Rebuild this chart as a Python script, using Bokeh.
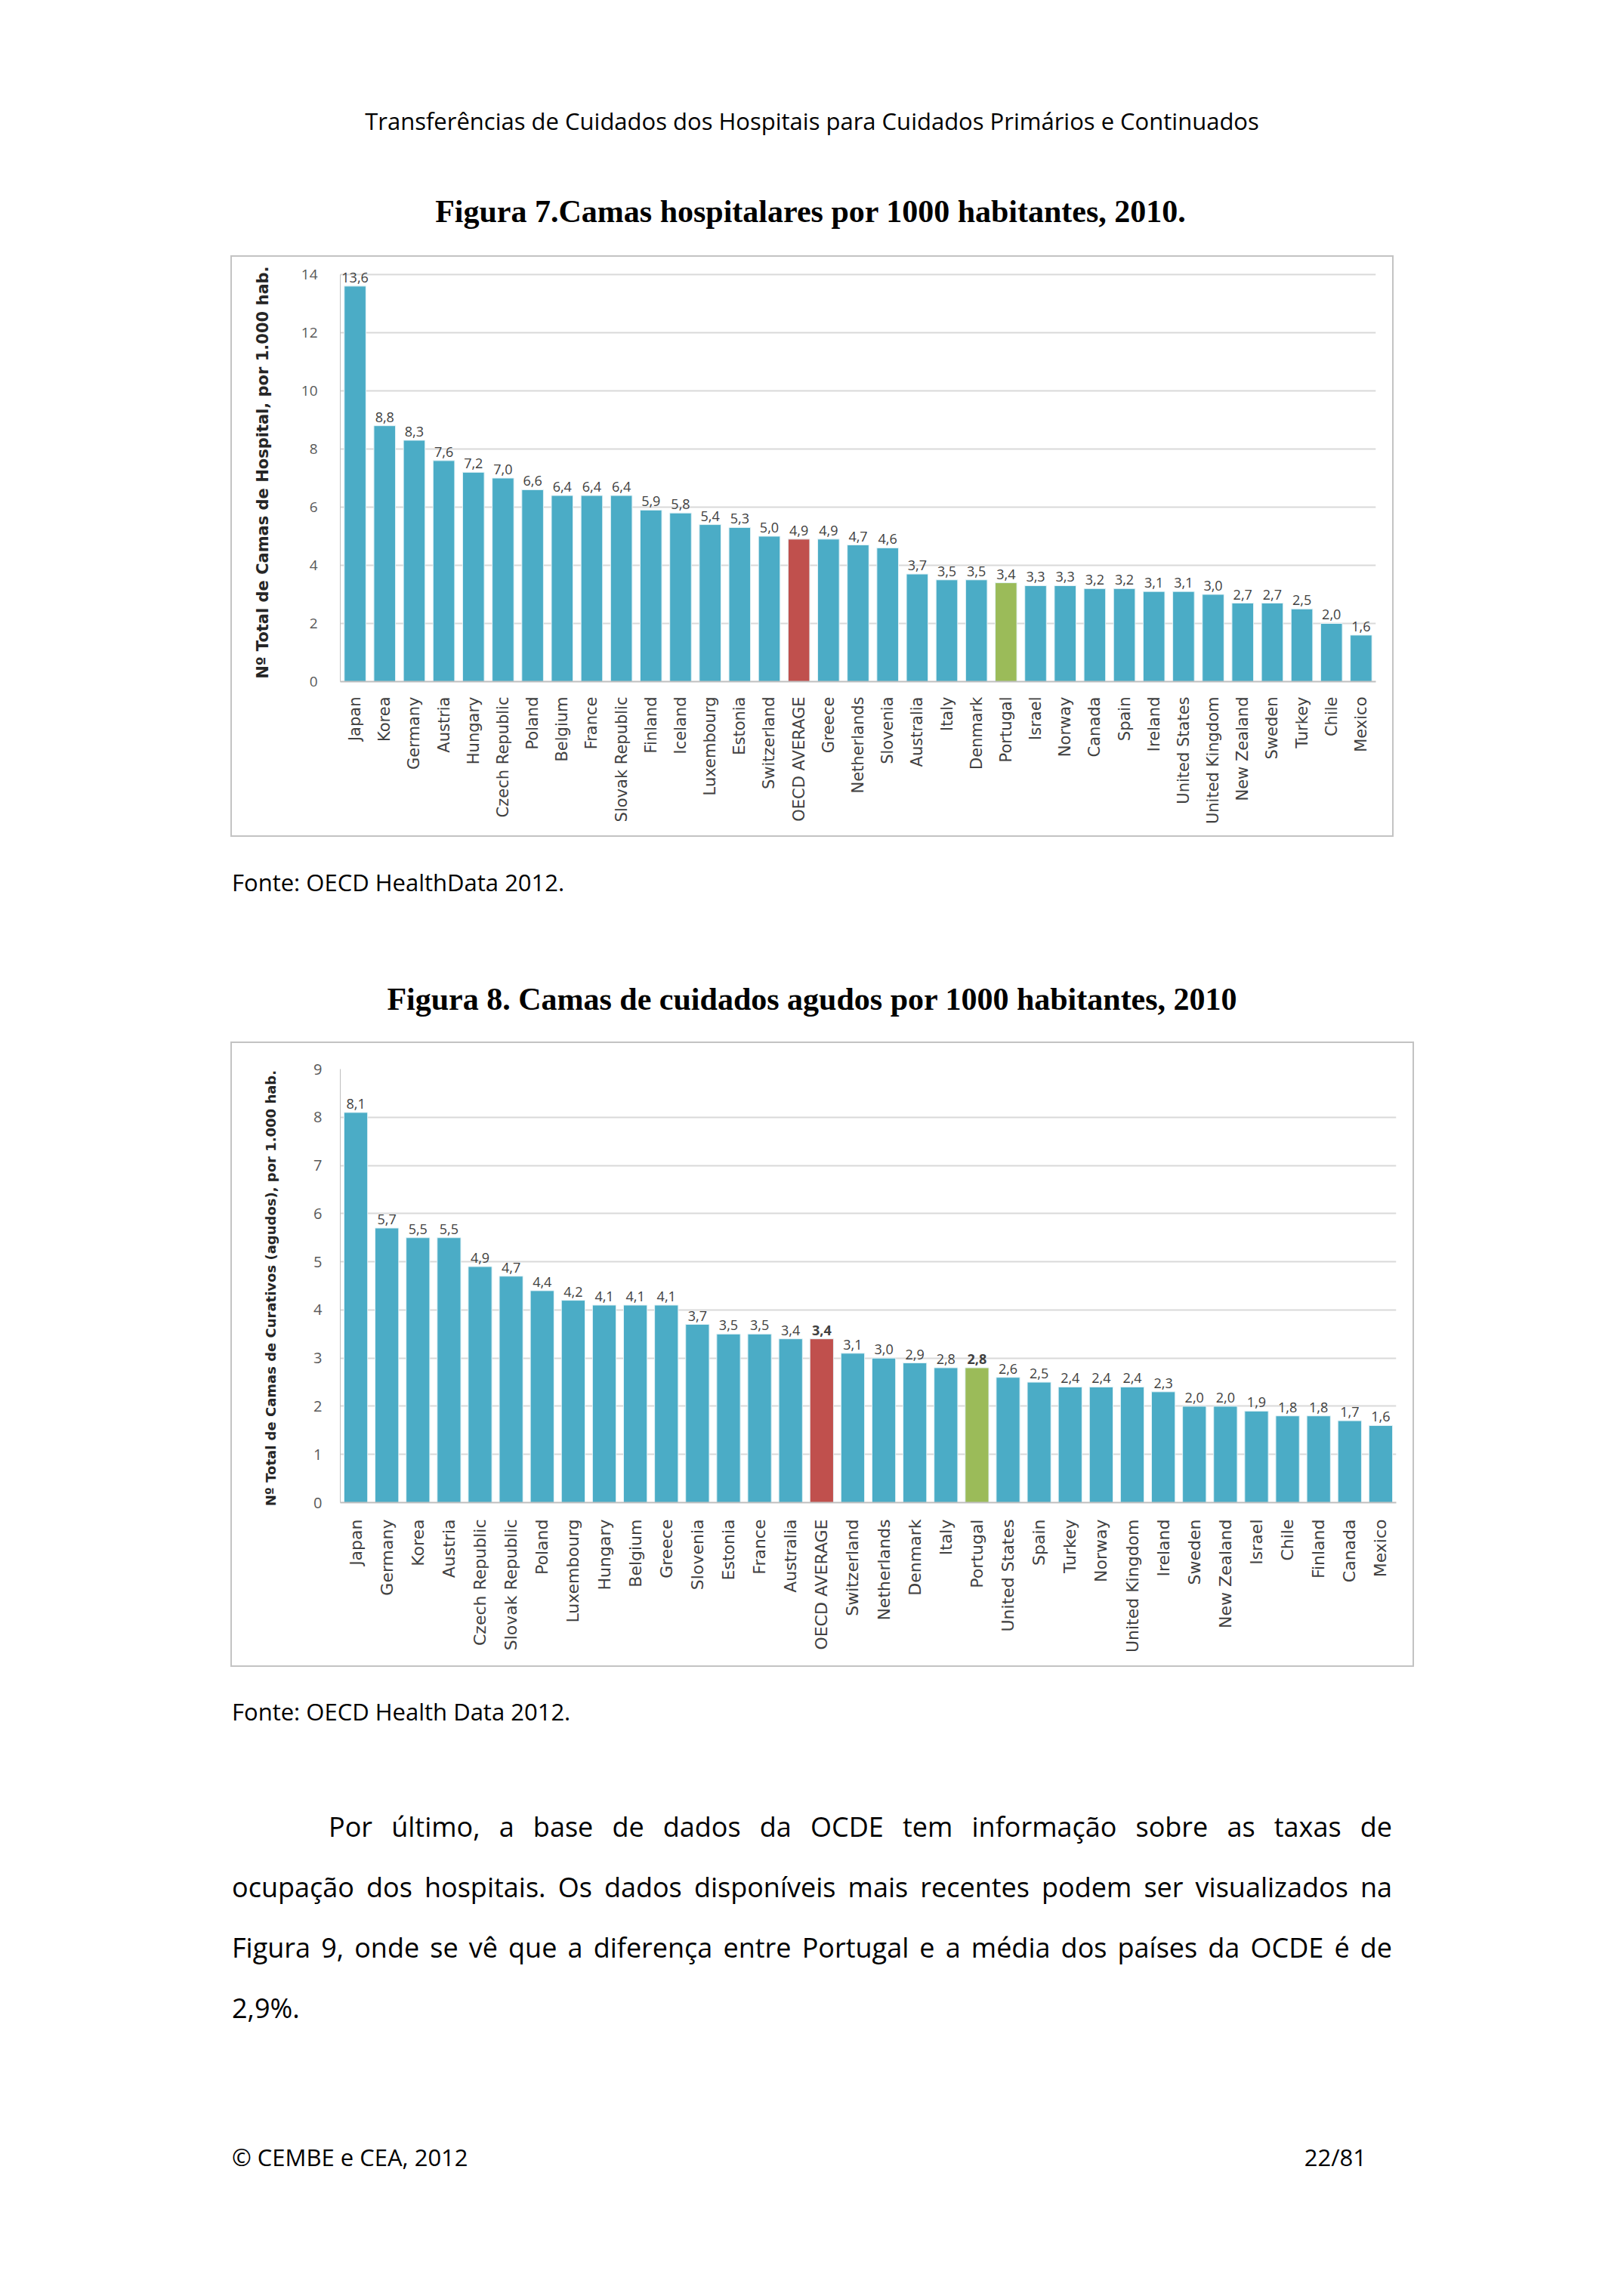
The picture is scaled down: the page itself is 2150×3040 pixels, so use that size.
import math
from bokeh.plotting import figure
from bokeh.models import ColumnDataSource, LabelSet, FactorRange, Range1d, FixedTicker, Div
from bokeh.layouts import column
from bokeh.core.properties import value
from bokeh.embed import file_html
from bokeh.resources import INLINE

# ---------------- data ----------------
countries1 = ["Japan", "Korea", "Germany", "Austria", "Hungary", "Czech Republic", "Poland",
              "Belgium", "France", "Slovak Republic", "Finland", "Iceland", "Luxembourg",
              "Estonia", "Switzerland", "OECD AVERAGE", "Greece", "Netherlands", "Slovenia",
              "Australia", "Italy", "Denmark", "Portugal", "Israel", "Norway", "Canada", "Spain",
              "Ireland", "United States", "United Kingdom", "New Zealand", "Sweden", "Turkey",
              "Chile", "Mexico"]
values1 = [13.6, 8.8, 8.3, 7.6, 7.2, 7.0, 6.6, 6.4, 6.4, 6.4, 5.9, 5.8, 5.4, 5.3, 5.0, 4.9,
           4.9, 4.7, 4.6, 3.7, 3.5, 3.5, 3.4, 3.3, 3.3, 3.2, 3.2, 3.1, 3.1, 3.0, 2.7, 2.7,
           2.5, 2.0, 1.6]
yticks1 = [0, 2, 4, 6, 8, 10, 12, 14]

countries2 = ["Japan", "Germany", "Korea", "Austria", "Czech Republic", "Slovak Republic",
              "Poland", "Luxembourg", "Hungary", "Belgium", "Greece", "Slovenia", "Estonia",
              "France", "Australia", "OECD AVERAGE", "Switzerland", "Netherlands", "Denmark",
              "Italy", "Portugal", "United States", "Spain", "Turkey", "Norway",
              "United Kingdom", "Ireland", "Sweden", "New Zealand", "Israel", "Chile",
              "Finland", "Canada", "Mexico"]
values2 = [8.1, 5.7, 5.5, 5.5, 4.9, 4.7, 4.4, 4.2, 4.1, 4.1, 4.1, 3.7, 3.5, 3.5, 3.4, 3.4,
           3.1, 3.0, 2.9, 2.8, 2.8, 2.6, 2.5, 2.4, 2.4, 2.4, 2.3, 2.0, 2.0, 1.9, 1.8, 1.8,
           1.7, 1.6]
yticks2 = [0, 1, 2, 3, 4, 5, 6, 7, 8, 9]

header_text = "Transferências de Cuidados dos Hospitais para Cuidados Primários e Continuados"
title1 = "Figura 7.Camas hospitalares por 1000 habitantes, 2010."
title2 = "Figura 8. Camas de cuidados agudos por 1000 habitantes, 2010"
ylabel1 = "Nº Total de Camas de Hospital, por 1.000  hab."
ylabel2 = "Nº Total de Camas de Curativos (agudos), por 1.000  hab."
source1 = "Fonte: OECD HealthData 2012."
source2 = "Fonte: OECD Health Data 2012."
para_lines = [
    "Por último, a base de dados da OCDE tem informação sobre as taxas de",
    "ocupação dos hospitais. Os dados disponíveis mais recentes podem ser visualizados na",
    "Figura 9, onde se vê que a diferença entre Portugal e a média dos países da OCDE é de",
    "2,9%.",
]
footer_left = "© CEMBE e CEA, 2012"
footer_right = "22/81"

BLUE = "#4BACC6"
RED = "#C0504D"
GREEN = "#9BBB59"
GRID = "#D9D9D9"
LABEL = "#404040"


def bar_colors(cats):
    out = []
    for c in cats:
        if c == "OECD AVERAGE":
            out.append(RED)
        elif c == "Portugal":
            out.append(GREEN)
        else:
            out.append(BLUE)
    return out


def make_chart(cats, vals, ticks, width, height, left, right, top, bottom, y_end,
               bar_w, ylabel, ylabel_size, tick_size, cat_size, val_size,
               ylabel_standoff, cat_standoff, tick_standoff, bold_cats=()):
    p = figure(x_range=FactorRange(factors=cats), y_range=Range1d(0, y_end),
               width=width, height=height, output_backend="svg", toolbar_location=None,
               min_border_left=left, min_border_right=right, min_border_top=top,
               min_border_bottom=bottom, margin=(0, 0, 0, 307))
    p.outline_line_color = None
    p.background_fill_color = "white"
    p.border_fill_color = "white"
    p.styles = {"box-shadow": "0 0 0 2px #C3C3C3"}

    src = ColumnDataSource(dict(cat=cats, val=vals, color=bar_colors(cats)))
    p.vbar(x="cat", top="val", width=bar_w, source=src, fill_color="color",
           line_color="#E4F3F7", line_width=1)

    norm = [i for i, c in enumerate(cats) if c not in bold_cats]
    bold = [i for i, c in enumerate(cats) if c in bold_cats]
    for idxs, style in ((norm, "normal"), (bold, "bold")):
        if not idxs:
            continue
        s = ColumnDataSource(dict(cat=[cats[i] for i in idxs], val=[vals[i] for i in idxs],
                                  label=[f"{vals[i]:.1f}".replace(".", ",") for i in idxs]))
        p.add_layout(LabelSet(x="cat", y="val", text="label", source=s,
                              text_align="center", text_baseline="bottom", y_offset=5,
                              text_font=value("Open Sans"), text_font_size=f"{val_size}px",
                              text_font_style=style, text_color=LABEL))

    p.xgrid.grid_line_color = None
    p.ygrid.grid_line_color = GRID
    p.ygrid.grid_line_width = 2

    ya = p.yaxis[0]
    ya.ticker = FixedTicker(ticks=ticks)
    ya.bounds = (ticks[0], ticks[-1])
    ya.axis_line_color = "#BFBFBF"
    ya.axis_line_width = 1
    ya.major_tick_line_color = None
    ya.minor_tick_line_color = None
    ya.major_label_text_font = "Open Sans"
    ya.major_label_text_font_size = f"{tick_size}px"
    ya.major_label_text_color = "#595959"
    ya.major_label_standoff = tick_standoff
    ya.axis_label = ylabel
    ya.axis_label_text_font = "DejaVu Sans"
    ya.axis_label_text_font_style = "bold"
    ya.axis_label_text_font_size = f"{ylabel_size}px"
    ya.axis_label_text_color = "#262626"
    ya.axis_label_standoff = ylabel_standoff

    xa = p.xaxis[0]
    xa.axis_line_color = "#BFBFBF"
    xa.axis_line_width = 2
    xa.major_tick_line_color = None
    xa.minor_tick_line_color = None
    xa.major_label_orientation = math.pi / 2
    xa.major_label_text_font = "DejaVu Sans"
    xa.major_label_text_font_size = f"{cat_size}px"
    xa.major_label_text_color = LABEL
    xa.major_label_standoff = cat_standoff
    return p


chart1 = make_chart(countries1, values1, yticks1, width=1536, height=766, left=143, right=22,
                    top=1, bottom=204, y_end=14.57, bar_w=0.73, ylabel=ylabel1,
                    ylabel_size=21, tick_size=19, cat_size=21, val_size=18,
                    ylabel_standoff=36, cat_standoff=14, tick_standoff=24)
chart2 = make_chart(countries2, values2, yticks2, width=1563, height=824, left=110, right=22,
                    top=34, bottom=216, y_end=9, bar_w=0.76, ylabel=ylabel2,
                    ylabel_size=18, tick_size=20, cat_size=22, val_size=18,
                    ylabel_standoff=43, cat_standoff=16, tick_standoff=18,
                    bold_cats=("OECD AVERAGE", "Portugal"))

W = 2134


def line(txt, cy, left, width, font, size, align="left", weight="normal", extra=""):
    h = int(size * 1.6)
    top = cy - h / 2
    return (f'<div style="position:absolute;left:{left}px;top:{top}px;width:{width}px;'
            f'height:{h}px;line-height:{h}px;font-family:\'{font}\';font-size:{size}px;'
            f'font-weight:{weight};text-align:{align};white-space:nowrap;color:#000;{extra}">'
            f'{txt}</div>')


def block(items, height):
    html = (f'<div style="position:relative;width:{W}px;height:{height}px;">'
            + "".join(items) + '</div>')
    return Div(text=html, width=W, height=height, margin=0)


div_top = block([
    line(header_text, 160, 8, W, "Open Sans", 31, align="center"),
    line(title1, 280, 6, W, "Liberation Serif", 42, align="center", weight="bold"),
], 340)

div_mid = block([
    line(source1, 62, 307, 1000, "Open Sans", 31),
    line(title2, 217, 8, W, "Liberation Serif", 42, align="center", weight="bold"),
], 275)

just = "text-align:justify;text-align-last:justify;"
div_bottom = block([
    line(source2, 61, 307, 1000, "Open Sans", 31),
    line(para_lines[0], 213, 435, 1408, "Open Sans", 36, extra=just),
    line(para_lines[1], 293, 307, 1536, "Open Sans", 36, extra=just),
    line(para_lines[2], 373, 307, 1536, "Open Sans", 36, extra=just),
    line(para_lines[3], 453, 307, 600, "Open Sans", 36),
    line(footer_left, 651, 307, 800, "Open Sans", 31),
    line(footer_right, 651, 1009, 800, "Open Sans", 31, align="right"),
], 743)

page = column(div_top, chart1, div_mid, chart2, div_bottom, spacing=0)

with open("out.html", "w") as f:
    f.write(file_html(page, INLINE))
